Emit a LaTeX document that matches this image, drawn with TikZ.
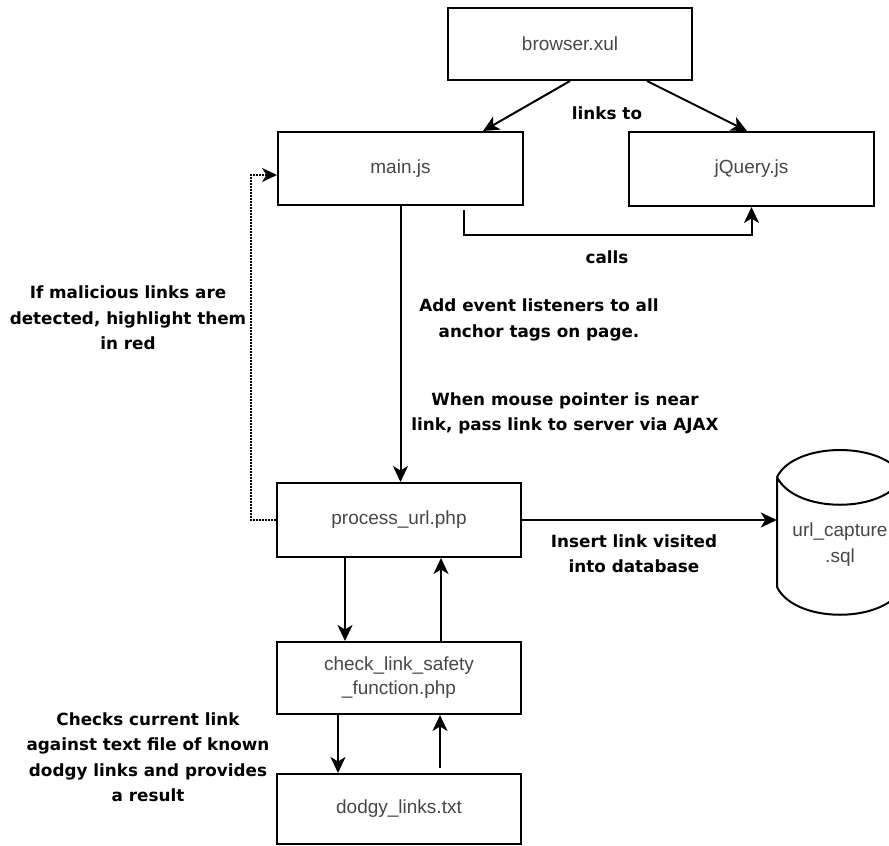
\documentclass[tikz,border=0pt]{standalone}
\usepackage{fontspec}
\setmainfont{Liberation Sans}
\newfontfamily\notefont{DejaVu Sans}
\usetikzlibrary{arrows.meta,calc}

\begin{document}
\begin{tikzpicture}[x=1pt,y=-1pt,
  box/.style={draw, line width=2pt, minimum width=244pt, minimum height=72pt,
    inner sep=0pt, align=center, text=black!72,
    font=\fontsize{19}{24}\selectfont},
  note/.style={align=center, inner sep=0pt,
    font=\notefont\bfseries\fontsize{16.8}{25.5}\selectfont},
  arr/.style={line width=2pt, -{Stealth[length=16pt,width=15pt,inset=4.5pt]}},
  dotline/.style={line width=1.6pt, dash pattern=on 1.6pt off 1.4pt,
    -{Stealth[length=15pt,width=14pt,inset=4.5pt]}},
]
\useasboundingbox (0,0) rectangle (889,846);

% modules
\node[box] (browser) at (570,44)    {browser.xul};
\node[box, minimum width=245pt, minimum height=73pt] (main) at (400.5,168.5) {main.js};
\node[box, minimum width=245pt, minimum height=74pt] (jquery) at (751.5,169) {jQuery.js};
\node[box, minimum height=74pt] (process) at (399,520) {process\_url.php};
\node[box] (check)   at (399,678)   {check\_link\_safety\\\_function.php};
\node[box, minimum height=70pt] (dodgy) at (399,809) {dodgy\_links.txt};

% database cylinder
\node[minimum width=126pt, minimum height=165pt, inner sep=0pt, align=center,
  text=black!72, font=\fontsize{19}{26}\selectfont] (db) at (840,545) {url\_capture\\.sql};
\draw[line width=2pt]
  (777,477) .. controls (795,441) and (885,441) .. (903,477)
  (777,477) .. controls (795,514) and (885,514) .. (903,477)
  (777,477) -- (777,587)
  (903,477) -- (903,587)
  (777,587) .. controls (795,624) and (885,624) .. (903,587);

% connectors
\draw[arr] (browser.south) -- ([xshift=82.5pt]main.north);
\draw[arr] ([xshift=77pt]browser.south) -- ([xshift=-4.5pt]jquery.north);
\draw[arr] ([xshift=63.5pt,yshift=-4pt]main.south) -- ++(0,25) -| (jquery.south);
\draw[arr] (main.south) -- (main.south |- process.north);
\draw[arr] (process.east) -- (process.east -| db.west);
\draw[dotline] (process.west) -- ++(-25,0) |- ([yshift=-6.5pt]main.west);
\draw[arr] ([xshift=-54pt]process.south) -- ([xshift=-54pt]check.north);
\draw[arr] ([xshift=42pt]check.north) -- ([xshift=42pt]process.south);
\draw[arr] ([xshift=-61pt]check.south) -- ([xshift=-61pt]dodgy.north);
\draw[arr] ([xshift=41pt,yshift=5pt]dodgy.north) -- ([xshift=41pt]check.south);

% annotations
\node[note] (lt)  at (607,113) {links to};
\node[note] (cl)  at (607,257) {calls};
\node[note] (mal) at (128,318) {If malicious links are\\detected, highlight them\\in red};
\node[note] (ev)  at (539,320) {Add event listeners to all\\anchor tags on page.};
\node[note] (mo)  at (565,413.5) {When mouse pointer is near\\link, pass link to server via AJAX};
\node[note] (ins) at (634,553.5) {Insert link visited\\into database};
\node[note] (chk) at (148,757) {Checks current link\\against text file of known\\dodgy links and provides\\a result};
\end{tikzpicture}
\end{document}
